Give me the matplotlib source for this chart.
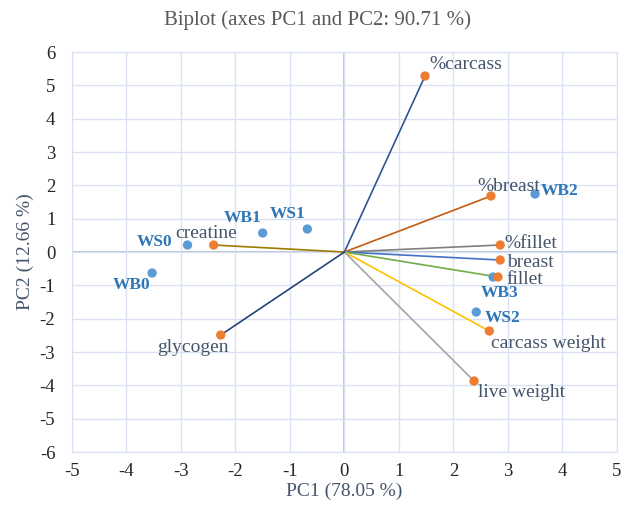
import matplotlib
matplotlib.use("Agg")
import matplotlib.pyplot as plt

plt.rcParams["axes.unicode_minus"] = False

# Observations
obs_names = ["WS0", "WB0", "WB1", "WS1", "WB2", "WB3", "WS2"]
obs_x = [-2.88, -3.53, -1.50, -0.68, 3.50, 2.73, 2.42]
obs_y = [0.21, -0.63, 0.57, 0.69, 1.74, -0.75, -1.80]

# Variables
var_names = ["%carcass", "%breast", "%fillet", "breast", "fillet",
             "carcass weight", "live weight", "creatine", "glycogen"]
var_x = [1.48, 2.69, 2.86, 2.86, 2.82, 2.66, 2.38, -2.40, -2.27]
var_y = [5.28, 1.68, 0.21, -0.24, -0.75, -2.37, -3.87, 0.21, -2.49]
var_colors = ["#2F5597", "#C55A11", "#7F7F7F", "#4472C4", "#70AD47",
              "#FFC000", "#A5A5A5", "#9E7A00", "#264478"]

x_ticks = list(range(-5, 6))
y_ticks = list(range(-6, 7))

serif = ["Liberation Serif", "DejaVu Serif"]
label_col = "#44546A"

fig = plt.figure(figsize=(6.23, 5.14), dpi=100)
ax = fig.add_axes([0.1156, 0.1206, 0.8744, 0.7782])

ax.set_xlim(-5, 5)
ax.set_ylim(-6, 6)
ax.set_xticks(x_ticks)
ax.set_yticks(y_ticks)
ax.grid(True, color="#D9E1F2", linewidth=1.0, zorder=0)
ax.axhline(0, color="#ADB9CA", linewidth=1.2, zorder=1)
ax.axvline(0, color="#ADB9CA", linewidth=1.2, zorder=1)
for s in ax.spines.values():
    s.set_color("#D9E1F2")
ax.tick_params(axis="x", length=0, labelsize=13.5, pad=8)
ax.tick_params(axis="y", length=0, labelsize=13.5, pad=12)
for lab in ax.get_xticklabels() + ax.get_yticklabels():
    lab.set_fontfamily(serif)
    lab.set_color("#262626")

for xv, yv, c in zip(var_x, var_y, var_colors):
    ax.plot([0, xv], [0, yv], color=c, linewidth=1.2, zorder=2)
ax.scatter(obs_x, obs_y, s=45, color="#5B9BD5", zorder=3, edgecolors="none")
ax.scatter(var_x, var_y, s=45, color="#ED7D31", zorder=4, edgecolors="none")

var_offsets = {
    "%carcass": ((3, 2), "left", "bottom"),
    "%breast": ((-10, 1), "left", "bottom"),
    "%fillet": ((3, 1), "left", "center"),
    "breast": ((5, -2), "left", "center"),
    "fillet": ((6, -2), "left", "center"),
    "carcass weight": ((1, -3), "left", "top"),
    "live weight": ((3, -2), "left", "top"),
    "creatine": ((17, 2), "right", "bottom"),
    "glycogen": ((6, -3), "right", "top"),
}
for n, xv, yv in zip(var_names, var_x, var_y):
    off, ha, va = var_offsets[n]
    ax.annotate(n, (xv, yv), xytext=off, textcoords="offset points",
                ha=ha, va=va, fontsize=14, color=label_col,
                fontfamily=serif, zorder=5)

obs_offsets = {
    "WS0": ((-11, 2), "right", "center"),
    "WB0": ((-1, -3), "right", "top"),
    "WB1": ((-1, 5), "right", "bottom"),
    "WS1": ((-1, 5), "right", "bottom"),
    "WB2": ((4, 2), "left", "center"),
    "WB3": ((-9, -6), "left", "top"),
    "WS2": ((6, -4), "left", "center"),
}
for n, xv, yv in zip(obs_names, obs_x, obs_y):
    off, ha, va = obs_offsets[n]
    ax.annotate(n, (xv, yv), xytext=off, textcoords="offset points",
                ha=ha, va=va, fontsize=12.5, color="#2E75B6",
                fontweight="bold", fontfamily=serif, zorder=5)

ax.set_xlabel("PC1 (78.05 %)", fontsize=14, color=label_col, fontfamily=serif, labelpad=2)
ax.set_ylabel("PC2 (12.66 %)", fontsize=14, color=label_col, fontfamily=serif, labelpad=4)
fig.text(0.51, 0.96, "Biplot (axes PC1 and PC2: 90.71 %)", ha="center", va="center",
         fontsize=15, color="#595959", fontfamily=serif)

fig.savefig("out.png", dpi=100)
